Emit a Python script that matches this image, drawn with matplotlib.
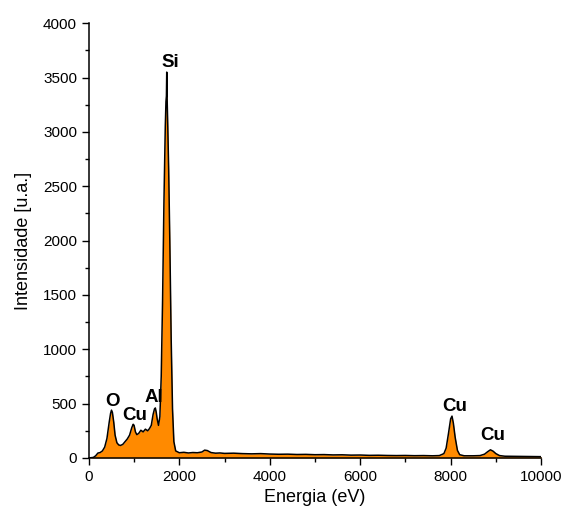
import numpy as np
import matplotlib.pyplot as plt
from matplotlib.ticker import MultipleLocator

plt.rcParams['font.family'] = ['Liberation Sans', 'DejaVu Sans']

# EDS spectrum: energy (eV) and counts
energy = [0, 100, 150, 200, 250, 300, 350, 400, 450, 480, 500, 520, 550, 580,
          620, 660, 700, 750, 800, 850, 900, 950, 980, 1000, 1030, 1060, 1100,
          1150, 1200, 1250, 1300, 1340, 1380, 1420, 1450, 1470, 1490, 1510,
          1540, 1570, 1600, 1630, 1660, 1690, 1705, 1715, 1722, 1730, 1745,
          1765, 1790, 1820, 1850, 1880, 1920,
          2000, 2100, 2200, 2300, 2400, 2500, 2560, 2620, 2700, 2800, 2900,
          3000, 3200, 3400, 3600, 3800, 4000, 4200, 4400, 4600, 4800, 5000,
          5200, 5400, 5600, 5800, 6000, 6200, 6400, 6600, 6800, 7000, 7200,
          7400, 7600, 7750, 7850, 7900, 7950, 8000, 8030, 8060, 8100, 8150,
          8200, 8300, 8500, 8650, 8750, 8820, 8880, 8940, 9000, 9080, 9200,
          9400, 9600, 9800, 10000]
counts = [0, 5, 20, 45, 50, 65, 100, 180, 330, 410, 440, 420, 330, 210,
          140, 120, 115, 125, 150, 175, 210, 280, 310, 300, 240, 215, 225,
          255, 240, 265, 250, 270, 300, 400, 450, 460, 420, 360,
          300, 380, 750, 1450, 2350, 3050, 3280, 3330, 3550, 3320, 3050,
          2650, 2000, 1100, 450, 150, 65,
          48, 52, 46, 50, 48, 55, 72, 68, 50, 44, 46,
          42, 44, 40, 38, 40, 36, 34, 35, 32, 33, 30,
          31, 28, 29, 26, 27, 24, 25, 23, 22, 23, 21,
          22, 20, 22, 40, 90, 220, 360, 385, 320, 190, 70,
          30, 20, 20, 22, 35, 58, 75, 62, 40, 22, 16,
          15, 14, 13, 12]

peak_names = ['O', 'Cu', 'Al', 'Si', 'Cu', 'Cu']
peak_x = [531, 1018, 1438, 1792, 8097, 8938]
peak_y = [515, 395, 552, 3641, 469, 211]

fig = plt.figure(figsize=(5.66, 5.27), dpi=100)
ax = fig.add_axes([0.157, 0.131, 0.799, 0.825])

ax.fill_between(energy, counts, 0, color='#ff8a00', lw=0)
ax.plot(energy, counts, color='black', lw=1.1)

for name, xx, yy in zip(peak_names, peak_x, peak_y):
    ax.text(xx, yy, name, ha='center', va='center', fontsize=13.5,
            fontweight='bold')

ax.set_xlim(0, 10000)
ax.set_ylim(0, 4000)
ax.xaxis.set_major_locator(MultipleLocator(2000))
ax.xaxis.set_minor_locator(MultipleLocator(1000))
ax.yaxis.set_major_locator(MultipleLocator(500))
ax.yaxis.set_minor_locator(MultipleLocator(250))
ax.tick_params(which='major', direction='out', length=5, width=1, labelsize=11)
ax.tick_params(which='minor', direction='out', length=3, width=1)
ax.spines['top'].set_visible(False)
ax.spines['right'].set_visible(False)
for s in ['left', 'bottom']:
    ax.spines[s].set_linewidth(1.1)

ax.set_xlabel('Energia (eV)', fontsize=13)
ax.set_ylabel('Intensidade [u.a.]', fontsize=13, labelpad=8)

fig.savefig('out.png', dpi=100)
